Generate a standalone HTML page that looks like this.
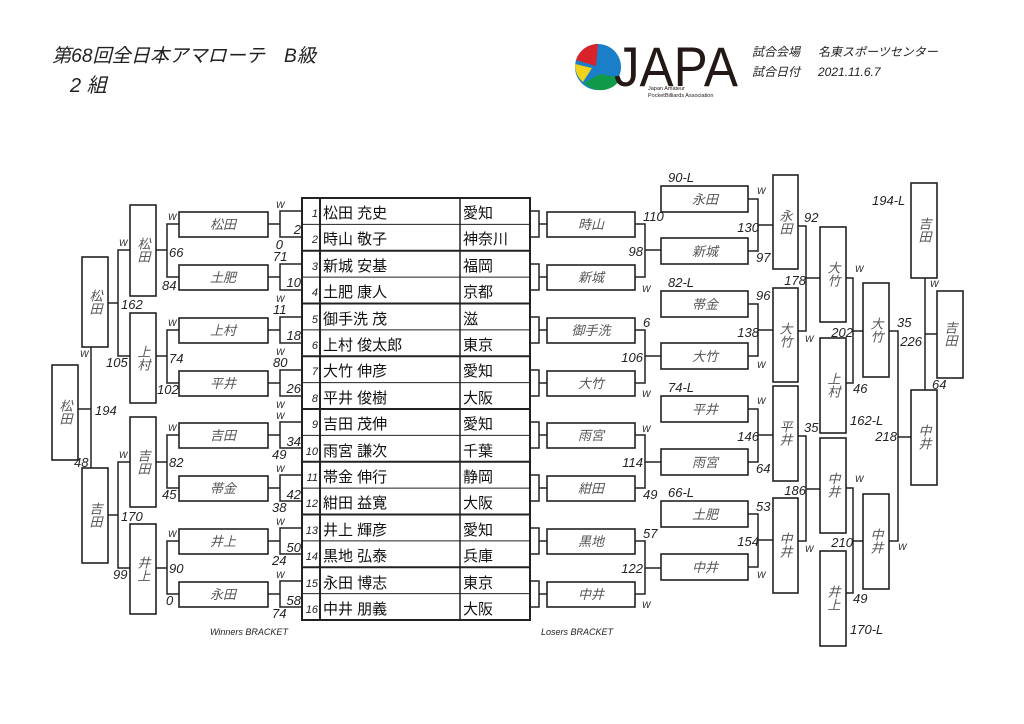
<!DOCTYPE html>
<html><head><meta charset="utf-8"><style>
body{margin:0;background:#fff;width:1024px;height:724px;overflow:hidden}
svg{display:block}
.l{stroke:#222;stroke-width:1.5;fill:none}
.b{stroke:#222;stroke-width:1.6;fill:#fff}
.n{font-family:"Liberation Sans","Noto Sans CJK JP",sans-serif;font-size:13px;font-style:italic;fill:#555;text-anchor:middle}
.v{font-family:"Liberation Sans","Noto Sans CJK JP",sans-serif;font-size:13px;font-style:italic;fill:#555;text-anchor:middle;writing-mode:vertical-rl}
.s{font-family:"Liberation Sans",sans-serif;font-size:13px;font-style:italic;fill:#222}
.w{font-family:"Liberation Sans",sans-serif;font-size:9px;font-style:italic;fill:#222}
.r{text-anchor:end}
.t{font-family:"Liberation Sans","Noto Sans CJK JP",sans-serif;font-size:15px;fill:#111}
.num{font-family:"Liberation Sans",sans-serif;font-size:11px;font-style:italic;fill:#222;text-anchor:end}
</style></head><body>
<svg width="1024" height="724" viewBox="0 0 1024 724">
<!-- header -->
<text x="52" y="62" font-family="Liberation Sans,Noto Sans CJK JP,sans-serif" font-size="19" font-style="italic" fill="#222" textLength="264" lengthAdjust="spacingAndGlyphs">第68回全日本アマローテ　B級</text>
<text x="70" y="92" font-family="Liberation Sans,Noto Sans CJK JP,sans-serif" font-size="20" font-style="italic" fill="#222">2 組</text>
<!-- logo -->
<circle cx="598" cy="67" r="23" fill="#1a7fc8"/>
<path d="M598,44 A23,23 0 0 0 576,60 L596,66 Z" fill="#d8232a"/>
<path d="M575,64 L592,68 L583,82 A23,23 0 0 1 575,64Z" fill="#f0d21a"/>
<path d="M584,83 A23,23 0 0 0 621,78 L600,74 Z" fill="#0f9a4a"/>
<text x="614" y="86" font-family="Liberation Sans,sans-serif" font-size="56" fill="#231815" textLength="124" lengthAdjust="spacingAndGlyphs">JAPA</text>
<text x="648" y="90" font-family="Liberation Sans,sans-serif" font-size="5.5" fill="#231815">Japan Amateur</text>
<text x="648" y="97" font-family="Liberation Sans,sans-serif" font-size="5.5" fill="#231815">PocketBilliards Association</text>
<text x="752" y="56" font-family="Liberation Sans,Noto Sans CJK JP,sans-serif" font-size="12" font-style="italic" fill="#222">試合会場</text>
<text x="818" y="56" font-family="Liberation Sans,Noto Sans CJK JP,sans-serif" font-size="12" font-style="italic" fill="#222">名東スポーツセンター</text>
<text x="752" y="76" font-family="Liberation Sans,Noto Sans CJK JP,sans-serif" font-size="12" font-style="italic" fill="#222">試合日付</text>
<text x="818" y="76" font-family="Liberation Sans,sans-serif" font-size="12" font-style="italic" fill="#222">2021.11.6.7</text>

<!-- center table -->
<g>
<rect x="302" y="198" width="228" height="422" fill="none" stroke="#222" stroke-width="2"/>
<line x1="320" y1="198" x2="320" y2="620" stroke="#222" stroke-width="2"/>
<line x1="460" y1="198" x2="460" y2="620" stroke="#222" stroke-width="1.5"/>
<g stroke="#222">
<line x1="302" y1="224.4" x2="530" y2="224.4" stroke-width="1"/>
<line x1="302" y1="250.8" x2="530" y2="250.8" stroke-width="2"/>
<line x1="302" y1="277.1" x2="530" y2="277.1" stroke-width="1"/>
<line x1="302" y1="303.5" x2="530" y2="303.5" stroke-width="2"/>
<line x1="302" y1="329.9" x2="530" y2="329.9" stroke-width="1"/>
<line x1="302" y1="356.3" x2="530" y2="356.3" stroke-width="2"/>
<line x1="302" y1="382.6" x2="530" y2="382.6" stroke-width="1"/>
<line x1="302" y1="409" x2="530" y2="409" stroke-width="2"/>
<line x1="302" y1="435.4" x2="530" y2="435.4" stroke-width="1"/>
<line x1="302" y1="461.8" x2="530" y2="461.8" stroke-width="2"/>
<line x1="302" y1="488.1" x2="530" y2="488.1" stroke-width="1"/>
<line x1="302" y1="514.5" x2="530" y2="514.5" stroke-width="2"/>
<line x1="302" y1="540.9" x2="530" y2="540.9" stroke-width="1"/>
<line x1="302" y1="567.3" x2="530" y2="567.3" stroke-width="2"/>
<line x1="302" y1="593.6" x2="530" y2="593.6" stroke-width="1"/>
</g>
<text class="num" x="318" y="217">1</text><text class="t" x="323" y="218">松田 充史</text><text class="t" x="463" y="218">愛知</text>
<text class="num" x="318" y="243">2</text><text class="t" x="323" y="244">時山 敬子</text><text class="t" x="463" y="244">神奈川</text>
<text class="num" x="318" y="270">3</text><text class="t" x="323" y="271">新城 安基</text><text class="t" x="463" y="271">福岡</text>
<text class="num" x="318" y="296">4</text><text class="t" x="323" y="297">土肥 康人</text><text class="t" x="463" y="297">京都</text>
<text class="num" x="318" y="323">5</text><text class="t" x="323" y="324">御手洗 茂</text><text class="t" x="463" y="324">滋</text>
<text class="num" x="318" y="349">6</text><text class="t" x="323" y="350">上村 俊太郎</text><text class="t" x="463" y="350">東京</text>
<text class="num" x="318" y="375">7</text><text class="t" x="323" y="376">大竹 伸彦</text><text class="t" x="463" y="376">愛知</text>
<text class="num" x="318" y="402">8</text><text class="t" x="323" y="403">平井 俊樹</text><text class="t" x="463" y="403">大阪</text>
<text class="num" x="318" y="428">9</text><text class="t" x="323" y="429">吉田 茂伸</text><text class="t" x="463" y="429">愛知</text>
<text class="num" x="318" y="455">10</text><text class="t" x="323" y="456">雨宮 謙次</text><text class="t" x="463" y="456">千葉</text>
<text class="num" x="318" y="481">11</text><text class="t" x="323" y="482">帯金 伸行</text><text class="t" x="463" y="482">静岡</text>
<text class="num" x="318" y="507">12</text><text class="t" x="323" y="508">紺田 益寛</text><text class="t" x="463" y="508">大阪</text>
<text class="num" x="318" y="534">13</text><text class="t" x="323" y="535">井上 輝彦</text><text class="t" x="463" y="535">愛知</text>
<text class="num" x="318" y="560">14</text><text class="t" x="323" y="561">黒地 弘泰</text><text class="t" x="463" y="561">兵庫</text>
<text class="num" x="318" y="587">15</text><text class="t" x="323" y="588">永田 博志</text><text class="t" x="463" y="588">東京</text>
<text class="num" x="318" y="613">16</text><text class="t" x="323" y="614">中井 朋義</text><text class="t" x="463" y="614">大阪</text>
</g>

<!-- WB round1 score boxes -->
<g class="l">
<path d="M302,211 H280 V237 H302"/><path d="M268,224 H280"/>
<path d="M302,264 H280 V290 H302"/><path d="M268,277 H280"/>
<path d="M302,317 H280 V343 H302"/><path d="M268,330 H280"/>
<path d="M302,370 H280 V396 H302"/><path d="M268,383 H280"/>
<path d="M302,422 H280 V448 H302"/><path d="M268,435 H280"/>
<path d="M302,475 H280 V501 H302"/><path d="M268,488 H280"/>
<path d="M302,528 H280 V554 H302"/><path d="M268,541 H280"/>
<path d="M302,581 H280 V607 H302"/><path d="M268,594 H280"/>
</g>
<g class="s" font-size="14">
<text class="r" x="301" y="234">2</text><text class="r" x="301" y="287">10</text><text class="r" x="301" y="340">18</text><text class="r" x="301" y="393">26</text>
<text class="r" x="301" y="446">34</text><text class="r" x="301" y="499">42</text><text class="r" x="301" y="552">50</text><text class="r" x="301" y="605">58</text>
</g>
<g class="w">
<text x="276" y="208">W</text><text class="s r" font-size="11" x="283" y="249">0</text>
<text class="s" font-size="11" x="273" y="261">71</text><text x="276" y="302">W</text>
<text class="s" font-size="11" x="273" y="314">11</text><text x="276" y="355">W</text>
<text class="s" font-size="11" x="273" y="367">80</text><text x="276" y="408">W</text>
<text x="276" y="419">W</text><text class="s" font-size="11" x="272" y="459">49</text>
<text x="276" y="472">W</text><text class="s" font-size="11" x="272" y="512">38</text>
<text x="276" y="525">W</text><text class="s" font-size="11" x="272" y="565">24</text>
<text x="276" y="578">W</text><text class="s" font-size="11" x="272" y="618">74</text>
</g>
<!-- WB name boxes -->
<g class="b">
<rect x="179" y="212" width="89" height="25"/><rect x="179" y="265" width="89" height="25"/>
<rect x="179" y="318" width="89" height="25"/><rect x="179" y="371" width="89" height="25"/>
<rect x="179" y="423" width="89" height="25"/><rect x="179" y="476" width="89" height="25"/>
<rect x="179" y="529" width="89" height="25"/><rect x="179" y="582" width="89" height="25"/>
</g>
<g class="n">
<text x="223" y="229">松田</text><text x="223" y="282">土肥</text><text x="223" y="335">上村</text><text x="223" y="388">平井</text>
<text x="223" y="440">吉田</text><text x="223" y="493">帯金</text><text x="223" y="546">井上</text><text x="223" y="599">永田</text>
</g>
<!-- WB R2 brackets -->
<g class="l">
<path d="M179,224 H167 V277 H179 M167,250 H156"/>
<path d="M179,330 H167 V383 H179 M167,356 H156"/>
<path d="M179,435 H167 V488 H179 M167,462 H156"/>
<path d="M179,541 H167 V594 H179 M167,568 H156"/>
</g>
<g class="w">
<text x="168" y="220">W</text><text class="s" font-size="13" x="169" y="257">66</text><text class="s" font-size="11" x="162" y="290">84</text>
<text x="168" y="326">W</text><text class="s" font-size="13" x="169" y="363">74</text><text class="s" font-size="11" x="157" y="394">102</text>
<text x="168" y="431">W</text><text class="s" font-size="13" x="169" y="467">82</text><text class="s" font-size="11" x="162" y="499">45</text>
<text x="168" y="537">W</text><text class="s" font-size="13" x="169" y="573">90</text><text class="s" font-size="11" x="166" y="605">0</text>
</g>
<g class="b">
<rect x="130" y="205" width="26" height="91"/><rect x="130" y="313" width="26" height="90"/>
<rect x="130" y="417" width="26" height="90"/><rect x="130" y="524" width="26" height="90"/>
</g>
<g class="v">
<text x="143" y="250">松田</text><text x="143" y="358">上村</text><text x="143" y="462">吉田</text><text x="143" y="569">井上</text>
</g>
<!-- WB R3 -->
<g class="l">
<path d="M130,250 H118 V356 H130 M118,303 H108"/>
<path d="M130,462 H118 V568 H130 M118,515 H108"/>
</g>
<g class="w">
<text x="119" y="246">W</text><text class="s" x="121" y="309">162</text><text class="s" font-size="11" x="106" y="367">105</text>
<text x="119" y="458">W</text><text class="s" x="121" y="521">170</text><text class="s" font-size="11" x="113" y="579">99</text>
</g>
<g class="b"><rect x="82" y="257" width="26" height="90"/><rect x="82" y="468" width="26" height="95"/></g>
<g class="v"><text x="95" y="302">松田</text><text x="95" y="515">吉田</text></g>
<!-- WB final -->
<path class="l" d="M91,347 V468 M78,409 H91"/>
<g class="w"><text x="80" y="357">W</text><text class="s" x="95" y="415">194</text><text class="s" font-size="11" x="74" y="467">48</text></g>
<rect class="b" x="52" y="365" width="26" height="95"/>
<text class="v" x="65" y="412">松田</text>

<text x="210" y="635" font-family="Liberation Sans,sans-serif" font-size="9" font-style="italic" fill="#222">Winners BRACKET</text>
<text x="541" y="635" font-family="Liberation Sans,sans-serif" font-size="9" font-style="italic" fill="#222">Losers BRACKET</text>

<!-- LB round1 -->
<g class="l">
<path d="M530,211 H539 V237 H530 M539,224 H547"/>
<path d="M530,264 H539 V290 H530 M539,277 H547"/>
<path d="M530,317 H539 V343 H530 M539,330 H547"/>
<path d="M530,370 H539 V396 H530 M539,383 H547"/>
<path d="M530,422 H539 V448 H530 M539,435 H547"/>
<path d="M530,475 H539 V501 H530 M539,488 H547"/>
<path d="M530,528 H539 V554 H530 M539,541 H547"/>
<path d="M530,581 H539 V607 H530 M539,594 H547"/>
</g>
<g class="b">
<rect x="547" y="212" width="88" height="25"/><rect x="547" y="265" width="88" height="25"/>
<rect x="547" y="318" width="88" height="25"/><rect x="547" y="371" width="88" height="25"/>
<rect x="547" y="423" width="88" height="25"/><rect x="547" y="476" width="88" height="25"/>
<rect x="547" y="529" width="88" height="25"/><rect x="547" y="582" width="88" height="25"/>
</g>
<g class="n">
<text x="591" y="229">時山</text><text x="591" y="282">新城</text><text x="591" y="335">御手洗</text><text x="591" y="388">大竹</text>
<text x="591" y="440">雨宮</text><text x="591" y="493">紺田</text><text x="591" y="546">黒地</text><text x="591" y="599">中井</text>
</g>
<g class="l">
<path d="M635,224 H645 V277 H635 M645,250 H661"/>
<path d="M635,330 H645 V383 H635 M645,356 H661"/>
<path d="M635,435 H645 V488 H635 M645,462 H661"/>
<path d="M635,541 H645 V594 H635 M645,568 H661"/>
</g>
<g class="w">
<text class="s" font-size="11" x="643" y="221">110</text><text class="s r" x="643" y="256">98</text><text x="642" y="292">W</text>
<text class="s" font-size="11" x="643" y="327">6</text><text class="s r" x="643" y="362">106</text><text x="642" y="397">W</text>
<text x="642" y="432">W</text><text class="s r" x="643" y="467">114</text><text class="s" font-size="11" x="643" y="499">49</text>
<text class="s" font-size="11" x="643" y="538">57</text><text class="s r" x="643" y="573">122</text><text x="642" y="608">W</text>
</g>
<!-- LB round2 -->
<g class="b">
<rect x="661" y="186" width="87" height="26"/><rect x="661" y="238" width="87" height="26"/>
<rect x="661" y="291" width="87" height="26"/><rect x="661" y="343" width="87" height="26"/>
<rect x="661" y="396" width="87" height="26"/><rect x="661" y="449" width="87" height="26"/>
<rect x="661" y="501" width="87" height="26"/><rect x="661" y="554" width="87" height="26"/>
</g>
<g class="n">
<text x="705" y="204">永田</text><text x="705" y="256">新城</text><text x="705" y="309">帯金</text><text x="705" y="361">大竹</text>
<text x="705" y="414">平井</text><text x="705" y="467">雨宮</text><text x="705" y="519">土肥</text><text x="705" y="572">中井</text>
</g>
<g class="s">
<text x="668" y="182">90-L</text><text x="668" y="287">82-L</text><text x="668" y="392">74-L</text><text x="668" y="497">66-L</text>
</g>
<g class="l">
<path d="M748,199 H758 V251 H748 M758,225 H773"/>
<path d="M748,304 H758 V356 H748 M758,330 H773"/>
<path d="M748,409 H758 V462 H748 M758,435 H773"/>
<path d="M748,514 H758 V567 H748 M758,540 H773"/>
</g>
<g class="w">
<text x="757" y="194">W</text><text class="s r" x="759" y="232">130</text><text class="s" font-size="11" x="756" y="262">97</text>
<text class="s" font-size="11" x="756" y="300">96</text><text class="s r" x="759" y="337">138</text><text x="757" y="368">W</text>
<text x="757" y="404">W</text><text class="s r" x="759" y="441">146</text><text class="s" font-size="11" x="756" y="473">64</text>
<text class="s" font-size="11" x="756" y="511">53</text><text class="s r" x="759" y="546">154</text><text x="757" y="578">W</text>
</g>
<!-- LB r3 -->
<g class="b">
<rect x="773" y="175" width="25" height="94"/><rect x="773" y="288" width="25" height="94"/>
<rect x="773" y="386" width="25" height="95"/><rect x="773" y="498" width="25" height="95"/>
</g>
<g class="v"><text x="785" y="222">永田</text><text x="785" y="335">大竹</text><text x="785" y="433">平井</text><text x="785" y="545">中井</text></g>
<g class="l">
<path d="M798,226 H806 V331 H798 M806,278 H820"/>
<path d="M798,436 H806 V541 H798 M806,489 H820"/>
</g>
<g class="w">
<text class="s" font-size="11" x="804" y="222">92</text><text class="s r" x="806" y="285">178</text><text x="805" y="342">W</text>
<text class="s" font-size="11" x="804" y="432">35</text><text class="s r" x="806" y="495">186</text><text x="805" y="552">W</text>
</g>
<!-- LB r4 -->
<g class="b">
<rect x="820" y="227" width="26" height="95"/><rect x="820" y="338" width="26" height="95"/>
<rect x="820" y="438" width="26" height="95"/><rect x="820" y="551" width="26" height="95"/>
</g>
<g class="v"><text x="833" y="274">大竹</text><text x="833" y="385">上村</text><text x="833" y="485">中井</text><text x="833" y="598">井上</text></g>
<g class="s"><text x="850" y="425">162-L</text><text x="850" y="634">170-L</text></g>
<g class="l">
<path d="M846,278 H853 V383 H846 M853,331 H863"/>
<path d="M846,488 H853 V593 H846 M853,541 H863"/>
</g>
<g class="w">
<text x="855" y="272">W</text><text class="s r" x="853" y="337">202</text><text class="s" font-size="11" x="853" y="393">46</text>
<text x="855" y="482">W</text><text class="s r" x="853" y="547">210</text><text class="s" font-size="11" x="853" y="603">49</text>
</g>
<!-- LB r5 -->
<g class="b"><rect x="863" y="283" width="26" height="94"/><rect x="863" y="494" width="26" height="95"/></g>
<g class="v"><text x="876" y="330">大竹</text><text x="876" y="541">中井</text></g>
<path class="l" d="M889,331 H898 V541 H889 M898,437 H911"/>
<g class="w"><text class="s" font-size="11" x="897" y="327">35</text><text class="s r" x="897" y="441">218</text><text x="898" y="550">W</text></g>
<!-- LB r6 / final -->
<g class="b"><rect x="911" y="183" width="26" height="95"/><rect x="911" y="390" width="26" height="95"/><rect x="937" y="291" width="26" height="87"/></g>
<g class="v"><text x="924" y="230">吉田</text><text x="924" y="437">中井</text><text x="950" y="334">吉田</text></g>
<path class="l" d="M925,278 V390 M925,334 H937"/>
<text class="s" x="872" y="205">194-L</text>
<g class="w"><text x="930" y="287">W</text><text class="s r" x="922" y="346">226</text><text class="s" font-size="11" x="932" y="389">64</text></g>
</svg>
</body></html>
